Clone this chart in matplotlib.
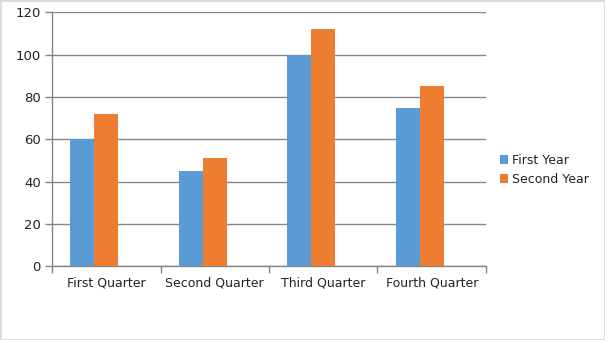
import matplotlib
matplotlib.use("Agg")
import matplotlib.pyplot as plt
import numpy as np
from matplotlib.patches import Rectangle

categories = ["First Quarter", "Second Quarter", "Third Quarter", "Fourth Quarter"]
first_year = [60, 45, 100, 75]
second_year = [72, 51, 112, 85]
series_names = ["First Year", "Second Year"]
y_ticks = [0, 20, 40, 60, 80, 100, 120]

plt.rcParams['font.family'] = ['DejaVu Sans']
fig = plt.figure(figsize=(6.05, 3.4), dpi=100)
fig.patch.set_facecolor('white')
fig.patches.append(Rectangle((0, 0), 1, 1, transform=fig.transFigure,
                             fill=False, edgecolor='#d9d9d9', linewidth=2))

ax = fig.add_axes([52/605, 1 - 266.3/340, (486-52)/605, (266.3-12.3)/340])
x = np.arange(len(categories))
w = 0.221
ax.bar(x - 1.5*w, first_year, width=w, align='edge', color='#5B9BD5', label=series_names[0], zorder=3)
ax.bar(x - 0.5*w, second_year, width=w, align='edge', color='#ED7D31', label=series_names[1], zorder=3)

ax.set_xlim(-0.5, len(categories) - 0.5)
ax.set_ylim(0, 120)
ax.set_yticks(y_ticks)
ax.yaxis.grid(True, color='#868686', linewidth=1, zorder=0)
ax.set_axisbelow(True)

ax.set_xticks(x)
ax.set_xticklabels(categories)
ax.set_xticks(np.arange(len(categories) + 1) - 0.5, minor=True)
ax.tick_params(axis='x', which='major', length=0, pad=7, labelsize=9, labelcolor='#222222')
ax.tick_params(axis='x', which='minor', length=5, color='#868686', width=1)
ax.tick_params(axis='y', length=5, color='#868686', width=1, labelsize=9.5, labelcolor='#222222', pad=3)

for s in ['top', 'right']:
    ax.spines[s].set_visible(False)
for s in ['left', 'bottom']:
    ax.spines[s].set_color('#868686')
    ax.spines[s].set_linewidth(1)

leg = ax.legend(loc='center left', bbox_to_anchor=(1.02, 0.38), frameon=False,
                handlelength=0.7, handleheight=0.7, handletextpad=0.3,
                labelspacing=0.45, fontsize=9, borderaxespad=0)
for t in leg.get_texts():
    t.set_color('#222222')

fig.savefig('out.png', dpi=100)
